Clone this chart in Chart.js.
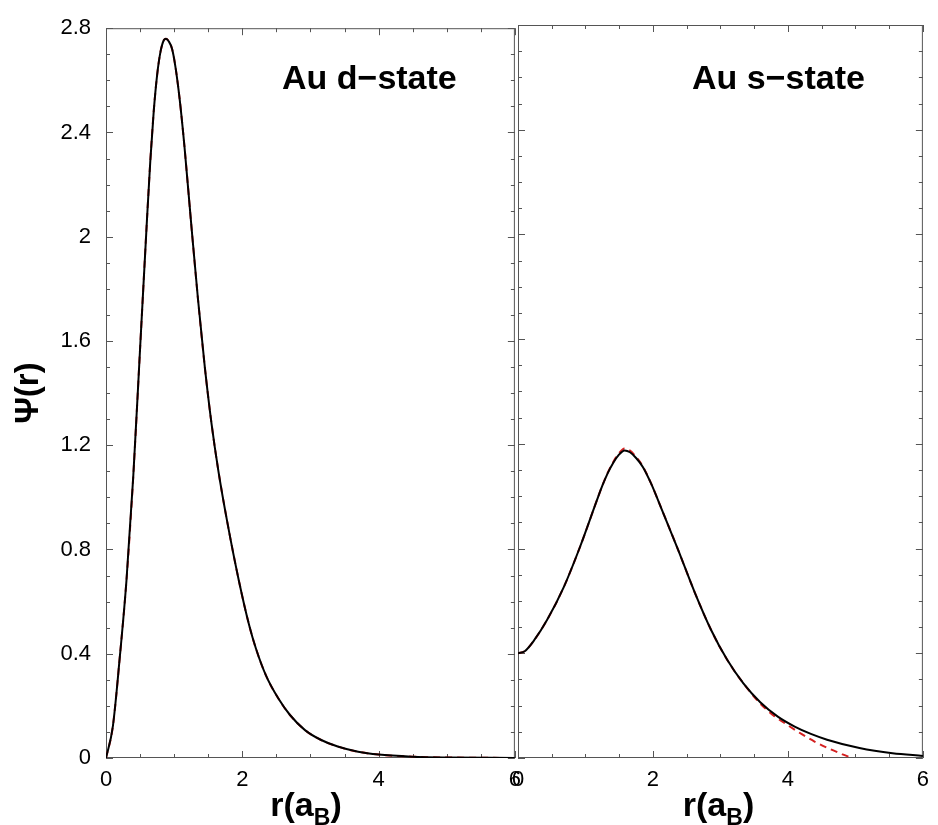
<!DOCTYPE html>
<html>
<head>
<meta charset="utf-8">
<title>Au d-state / s-state</title>
<script src="https://cdn.jsdelivr.net/npm/chart.js@4.4.1/dist/chart.umd.min.js"></script>
<style>
  body { margin: 0; background: #fff; }
  #wrap { position: relative; width: 938px; height: 825px; overflow: hidden; font-family: "Liberation Sans", Arial, sans-serif; }
  .panel { position: absolute; top: 0; height: 825px; }
  #leftBox { left: 0; width: 530px; }
  #rightBox { left: 500px; width: 438px; }
  .label { position: absolute; font-weight: bold; font-size: 34px; line-height: 34px; white-space: nowrap; color: #000; }
  .xtitle { position: absolute; top: 787px; text-align: center; font-weight: bold; font-size: 34px; line-height: 34px; color: #000; }
  .xtitle sub { font-size: 23px; line-height: 0; vertical-align: -9px; }
</style>
</head>
<body>
<div id="wrap">
  <div class="panel" id="leftBox"><canvas id="leftChart"></canvas></div>
  <div class="panel" id="rightBox"><canvas id="rightChart"></canvas></div>
  <div class="label" style="left:282px; top:60px;">Au d−state</div>
  <div class="label" style="left:692px; top:60px;">Au s−state</div>
  <div class="xtitle" style="left:100px; width:412px;">r(a<sub>B</sub>)</div>
  <div class="xtitle" style="left:512px; width:413px;">r(a<sub>B</sub>)</div>
</div>
<script>
// Au d-state: r (a_B) and Psi(r)
const dR = [0, 0.1, 0.2, 0.3, 0.4, 0.5, 0.6, 0.65, 0.7, 0.75, 0.8, 0.85, 0.88, 0.92, 0.97, 1.02, 1.08, 1.15,
  1.25, 1.35, 1.45, 1.55, 1.65, 1.78, 1.95, 2.1, 2.2, 2.35, 2.53, 2.7, 2.92, 3.15, 3.4, 3.7, 4.0, 4.5, 5.0, 6.0];
const dPsi = [0, 0.12, 0.38, 0.68, 1.08, 1.57, 2.06, 2.29, 2.48, 2.62, 2.71, 2.755, 2.76, 2.75, 2.72, 2.65, 2.53, 2.35,
  2.05, 1.76, 1.5, 1.28, 1.1, 0.905, 0.68, 0.51, 0.42, 0.315, 0.228, 0.165, 0.107, 0.07, 0.044, 0.024, 0.013, 0.005, 0.002, 0];
// fitted d-state (red dashed) lies on top of the full one
const dFitR = dR;
const dFitPsi = dPsi;

// Au s-state
const sR = [0, 0.1, 0.24, 0.43, 0.68, 0.92, 1.17, 1.25, 1.33, 1.41, 1.49, 1.58, 1.66, 1.75, 1.85, 1.97, 2.13, 2.37,
  2.62, 2.86, 3.1, 3.34, 3.59, 3.85, 4.1, 4.34, 4.58, 5.06, 5.55, 6.0];
const sPsi = [0.4, 0.408, 0.45, 0.527, 0.654, 0.807, 0.985, 1.04, 1.088, 1.127, 1.157, 1.175, 1.168, 1.146, 1.112, 1.05,
  0.95, 0.797, 0.632, 0.49, 0.375, 0.285, 0.213, 0.158, 0.12, 0.092, 0.07, 0.038, 0.018, 0.008];
const sFitR = [0, 0.1, 0.24, 0.43, 0.68, 0.92, 1.17, 1.25, 1.33, 1.41, 1.49, 1.58, 1.66, 1.75, 1.85, 1.97, 2.13, 2.37,
  2.62, 2.86, 3.1, 3.34, 3.59, 3.8, 4.0, 4.2, 4.4, 4.6, 4.8, 4.95];
const sFitPsi = [0.4, 0.408, 0.45, 0.527, 0.654, 0.807, 0.985, 1.041, 1.09, 1.13, 1.162, 1.182, 1.174, 1.15, 1.114, 1.05,
  0.95, 0.797, 0.632, 0.49, 0.375, 0.285, 0.208, 0.16, 0.125, 0.092, 0.062, 0.037, 0.015, 0];

const xTicks = [0, 2, 4, 6];
const yTicks = [0, 0.4, 0.8, 1.2, 1.6, 2, 2.4, 2.8];
const xMinorStep = 0.5;
const yMinorStep = 0.1;

function toPoints(xs, ys) {
  return xs.map((x, i) => ({ x: x, y: ys[i] }));
}

// box around the plot with inward ticks on all four sides (xmgrace style)
const framePlugin = {
  id: "frame",
  beforeDatasetsDraw(chart) {
    const { ctx, chartArea: a, scales } = chart;
    const xs = scales.x, ys = scales.y;
    ctx.save();
    ctx.strokeStyle = "#555";
    ctx.lineWidth = 1;
    ctx.strokeRect(a.left + 0.5, a.top + 0.5, a.right - a.left - 1, a.bottom - a.top - 1);
    ctx.beginPath();
    for (let v = xs.min; v <= xs.max + 1e-9; v += xMinorStep) {
      const px = Math.round(xs.getPixelForValue(v)) + 0.5;
      const len = xTicks.some((t) => Math.abs(t - v) < 1e-6) ? 7 : 4;
      ctx.moveTo(px, a.bottom); ctx.lineTo(px, a.bottom - len);
      ctx.moveTo(px, a.top); ctx.lineTo(px, a.top + len);
    }
    for (let v = ys.min; v <= ys.max + 1e-9; v += yMinorStep) {
      const py = Math.round(ys.getPixelForValue(v)) + 0.5;
      const len = yTicks.some((t) => Math.abs(t - v) < 1e-6) ? 7 : 4;
      ctx.moveTo(a.left, py); ctx.lineTo(a.left + len, py);
      ctx.moveTo(a.right, py); ctx.lineTo(a.right - len, py);
    }
    ctx.stroke();
    ctx.restore();
  },
};

function makeChart(id, full, fit, isLeft) {
  const ctx = document.getElementById(id).getContext("2d");
  return new Chart(ctx, {
    type: "line",
    data: {
      datasets: [
        {
          label: "full",
          data: full,
          borderColor: "#000",
          borderWidth: 2,
          pointRadius: 0,
          cubicInterpolationMode: "monotone",
        },
        {
          label: "fit",
          data: fit,
          borderColor: "#d42020",
          borderWidth: 2,
          borderDash: [7, 5],
          pointRadius: 0,
          cubicInterpolationMode: "monotone",
        },
      ],
    },
    options: {
      responsive: true,
      maintainAspectRatio: false,
      animation: false,
      layout: { padding: { top: 25, right: isLeft ? 12 : 7, left: 0, bottom: 0 } },
      plugins: { legend: { display: false }, tooltip: { enabled: false } },
      scales: {
        x: {
          type: "linear",
          min: 0,
          max: 6,
          afterBuildTicks: (s) => { s.ticks = xTicks.map((v) => ({ value: v })); },
          afterFit: (s) => { s.height = 67; },
          grid: { display: false, drawTicks: false },
          border: { display: false },
          ticks: {
            autoSkip: false,
            maxRotation: 0,
            padding: 9,
            color: "#000",
            font: { family: "Liberation Sans", size: 22 },
          },
        },
        y: {
          min: 0,
          max: 2.8,
          afterBuildTicks: (s) => { s.ticks = yTicks.map((v) => ({ value: v })); },
          afterFit: (s) => { s.width = isLeft ? 106 : 18; },
          grid: { display: false, drawTicks: false },
          border: { display: false },
          ticks: {
            display: isLeft,
            padding: 15,
            color: "#000",
            font: { family: "Liberation Sans", size: 22 },
            callback: (v) => String(Math.round(v * 10) / 10),
          },
          title: {
            display: isLeft,
            text: "Ψ(r)",
            color: "#000",
            padding: { top: 9, bottom: 0 },
            font: { family: "Liberation Sans", size: 33, weight: "bold" },
          },
        },
      },
    },
    plugins: [framePlugin],
  });
}

document.addEventListener("DOMContentLoaded", () => {
  makeChart("leftChart", toPoints(dR, dPsi), toPoints(dFitR, dFitPsi), true);
  makeChart("rightChart", toPoints(sR, sPsi), toPoints(sFitR, sFitPsi), false);
});
</script>
</body>
</html>
